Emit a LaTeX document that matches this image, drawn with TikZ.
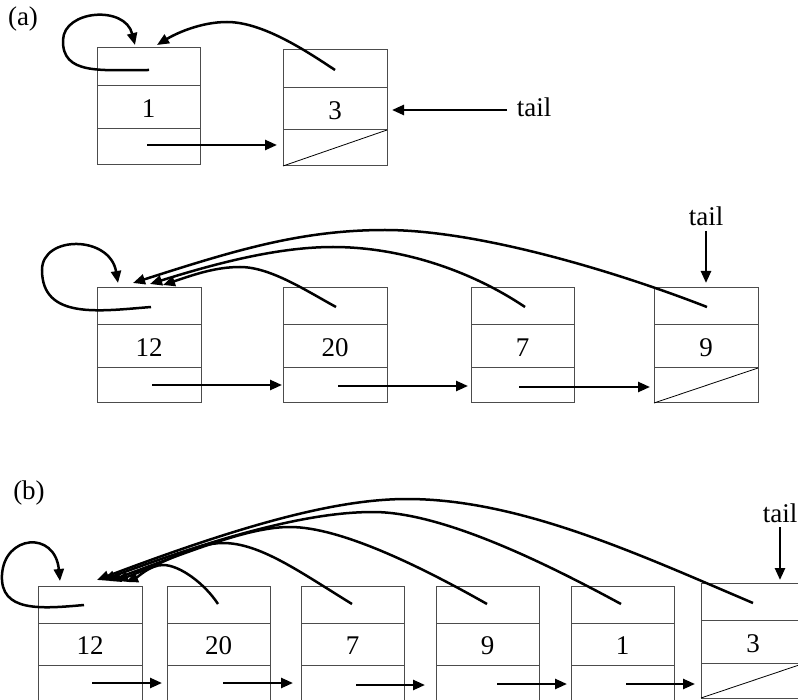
\documentclass[tikz,border=0pt]{standalone}
\usepackage{fontspec}
\setmainfont{Liberation Serif}
\usetikzlibrary{arrows.meta,fit}
% #1 name, #2 x0, #3 x1, #4 top, #5 divider1, #6 divider2, #7 bottom, #8 value
\newcommand\drawrec[8]{%
  \node[recbox, fit={(#2,#4) (#3,#7)}] (#1) {};
  \draw[divider] (#2,#5) -- (#3,#5);
  \draw[divider] (#2,#6) -- (#3,#6);
  \node[lbl, anchor=base] (#1-v) at ({(#2+#3)/2},{(#5+#6)/2+10.5}) {#8};
}
\begin{document}
\begin{tikzpicture}[x=1pt,y=-1pt,
  recbox/.style={draw=black!70, line width=1pt, inner sep=0pt, outer sep=0pt},
  divider/.style={draw=black!70, line width=1pt},
  nullbar/.style={draw=black, line width=0.8pt},
  lbl/.style={font=\fontsize{27}{31}\selectfont, inner sep=0pt},
  ptr/.style={line width=2.5pt, -{Triangle[length=12pt,width=10pt]}},
]
\clip (0,0) rectangle (798,700);

% ---------------- (a) top ----------------
\node[lbl, anchor=base] (la) at (23,26) {(a)};
\drawrec{A1}{97}{200}{48}{86}{129}{165}{1}
\drawrec{A3}{283}{387}{50}{88}{130}{166}{3}
\draw[nullbar] (A3.south west) -- (387,130);

\coordinate (A1p) at (149,70);
\coordinate (A1t1) at (135,45);
\coordinate (A1t2) at (157,45);
\coordinate (A3p) at (335,70);
\coordinate (A1n) at (147,145);
\coordinate (A3in) at (277,145);
\draw[ptr] (A1p) .. controls (100,70) and (62,75) .. (63,40)
                 .. controls (64,10) and (125,5) .. (A1t1);
\draw[ptr] (A3p) .. controls (305,50) and (262,22) .. (227,22)
                 .. controls (200,22) and (175,34) .. (A1t2);
\draw[ptr] (A1n) -- (A3in);

\node[lbl, anchor=base] (tailA) at (534,117) {tail};
\coordinate (tAs) at (507,110);
\coordinate (tAe) at (392,110);
\draw[ptr] (tAs) -- (tAe);

% ---------------- (a) second row ----------------
\drawrec{B12}{97}{201}{288}{325}{368}{403}{12}
\drawrec{B20}{283}{387}{288}{325}{368}{403}{20}
\drawrec{B7}{471}{574}{288}{325}{368}{403}{7}
\drawrec{B9}{654}{758}{288}{325}{368}{403}{9}
\draw[nullbar] (B9.south west) -- (758,368);

\coordinate (B12p) at (151,307);
\coordinate (B20p) at (336,307);
\coordinate (B7p) at (525,307);
\coordinate (B9p) at (707,307);
\coordinate (B12t0) at (118,283);
\coordinate (B12t9) at (133,283);
\coordinate (B12t7) at (150,284);
\coordinate (B12t20) at (163,285);
\draw[ptr] (B12p) .. controls (100,311) and (42,320) .. (42,270)
                  .. controls (42,235) and (110,235) .. (B12t0);
\draw[ptr] (B20p) .. controls (305,290) and (270,267) .. (240,267)
                  .. controls (215,267) and (193,275) .. (B12t20);
\draw[ptr] (B7p) .. controls (470,270) and (400,247) .. (333,247)
                 .. controls (280,247) and (220,262) .. (B12t7);
\draw[ptr] (B9p) .. controls (620,273) and (480,230) .. (385,230)
                 .. controls (300,230) and (233,251) .. (B12t9);

\coordinate (B12n) at (152,385);
\coordinate (B20in) at (282,385);
\coordinate (B20n) at (338,386);
\coordinate (B7in) at (468,386);
\coordinate (B7n) at (519,387);
\coordinate (B9in) at (650,387);
\draw[ptr] (B12n) -- (B20in);
\draw[ptr] (B20n) -- (B7in);
\draw[ptr] (B7n) -- (B9in);

\node[lbl, anchor=base] (tailB) at (706,226) {tail};
\coordinate (tBs) at (706,231);
\coordinate (tBe) at (706,283);
\draw[ptr] (tBs) -- (tBe);

% ---------------- (b) ----------------
\node[lbl, anchor=base] (lb) at (29,499) {(b)};
\drawrec{C12}{38}{142}{586}{623}{665}{700}{12}
\drawrec{C20}{167}{270}{586}{623}{665}{700}{20}
\drawrec{C7}{301}{404}{586}{623}{665}{700}{7}
\drawrec{C9}{436}{539}{586}{623}{665}{700}{9}
\drawrec{C1}{571}{674}{586}{623}{665}{700}{1}
\drawrec{C3}{701}{805}{583}{620}{663}{698}{3}
\draw[nullbar] (C3.south west) -- (805,663);

\coordinate (C12p) at (84,605);
\coordinate (C20p) at (218,604);
\coordinate (C7p) at (352,604);
\coordinate (C9p) at (487,604);
\coordinate (C1p) at (621,604);
\coordinate (C3p) at (753,603);
\coordinate (C12t0) at (60,581);
\coordinate (C12t3) at (97,580);
\coordinate (C12t1) at (103,580);
\coordinate (C12t9) at (109,581);
\coordinate (C12t7) at (116,581);
\coordinate (C12t20) at (126,582);
\draw[ptr] (C12p) .. controls (40,609) and (0,612) .. (2,575)
                  .. controls (4,535) and (55,530) .. (C12t0);
\draw[ptr] (C20p) .. controls (205,584) and (180,565) .. (163,565)
                  .. controls (150,565) and (138,577) .. (C12t20);
\draw[ptr] (C7p) .. controls (300,572) and (260,543) .. (223,543)
                 .. controls (195,543) and (166,562.5) .. (C12t7);
\draw[ptr] (C9p) .. controls (420,566) and (340,527) .. (290,527)
                 .. controls (250,527) and (199,548) .. (C12t9);
\draw[ptr] (C1p) .. controls (540,560) and (440,512) .. (373,512)
                 .. controls (320,512) and (243,528) .. (C12t1);
\draw[ptr] (C3p) .. controls (640,555) and (520,499) .. (407,499)
                 .. controls (340,499) and (250,522) .. (C12t3);

\coordinate (C12n) at (92,683);
\coordinate (C20in) at (162,683);
\coordinate (C20n) at (223,683);
\coordinate (C7in) at (293,683);
\coordinate (C7n) at (356,685);
\coordinate (C9in) at (425,685);
\coordinate (C9n) at (497,684);
\coordinate (C1in) at (567,684);
\coordinate (C1n) at (626,684);
\coordinate (C3in) at (695,684);
\draw[ptr] (C12n) -- (C20in);
\draw[ptr] (C20n) -- (C7in);
\draw[ptr] (C7n) -- (C9in);
\draw[ptr] (C9n) -- (C1in);
\draw[ptr] (C1n) -- (C3in);

\node[lbl, anchor=base] (tailC) at (780,522) {tail};
\coordinate (tCs) at (780,527);
\coordinate (tCe) at (780,580);
\draw[ptr] (tCs) -- (tCe);
\end{tikzpicture}
\end{document}
